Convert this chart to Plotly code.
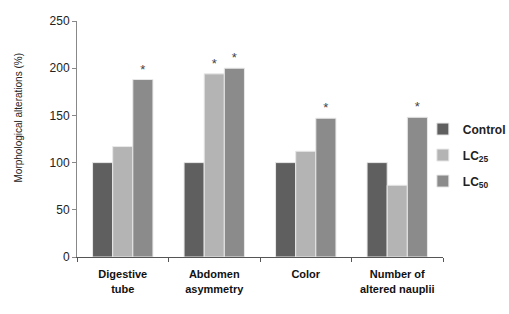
import plotly.graph_objects as go

categories = ["Digestive<br>tube", "Abdomen<br>asymmetry", "Color", "Number of<br>altered nauplii"]
control = [100, 100, 100, 100]
lc25 = [117, 194, 112, 76]
lc50 = [188, 200, 147, 148]
sig25 = [None, "*", None, None]
sig50 = ["*", "*", "*", "*"]
series_names = ["<b>Control</b>", "<b>LC<sub>25</sub></b>", "<b>LC<sub>50</sub></b>"]
colors = ["#5f5f5f", "#b4b4b4", "#8b8b8b"]

fig = go.Figure()
for i, (vals, sig) in enumerate([(control, None), (lc25, sig25), (lc50, sig50)]):
    kw = {}
    if sig is not None:
        kw = dict(text=sig, textposition="outside", cliponaxis=False,
                  textfont=dict(family="Liberation Sans", size=13, color="#444444"))
    fig.add_trace(go.Bar(
        x=categories, y=vals, name=series_names[i],
        marker=dict(color=colors[i], line=dict(color="#e8e8e8", width=1)),
        legendgroup=str(i), **kw,
    ))

fig.update_layout(
    width=509, height=314,
    margin=dict(l=77, r=66, t=21, b=57, autoexpand=False),
    plot_bgcolor="white", paper_bgcolor="white",
    barmode="group", bargap=0.34, bargroupgap=0,
    font=dict(family="Liberation Sans", color="#222222"),
    showlegend=True,
    legend=dict(x=0.945, y=0.432, xanchor="left", yanchor="middle",
                font=dict(size=12, color="#222222"), tracegroupgap=7,
                itemwidth=30, bgcolor="rgba(0,0,0,0)"),
    annotations=[dict(text="Morphological alterations (%)", textangle=-90,
                      xref="paper", yref="paper", x=-0.16, y=0.593,
                      xanchor="center", yanchor="middle", showarrow=False,
                      font=dict(size=10, color="#222222"))],
)
fig.update_yaxes(
    range=[0, 250], dtick=50, showgrid=False, zeroline=False,
    showline=True, linecolor="#888888", linewidth=1,
    ticks="outside", ticklen=4, tickcolor="#888888",
    tickfont=dict(size=12, color="#222222"),
)
fig.update_xaxes(
    showline=True, linecolor="#555555", linewidth=1,
    ticks="outside", ticklen=4, tickcolor="#555555", tickson="boundaries",
    tickfont=dict(size=11, color="#111111", family="Liberation Sans"),
    tickprefix="<b>", ticksuffix="</b>", ticklabelstandoff=7,
)
fig.update_traces(textangle=0)
fig.write_html("out.html", config={"displayModeBar": False},
               post_script="document.body.style.margin='0';document.body.style.overflow='hidden';")
